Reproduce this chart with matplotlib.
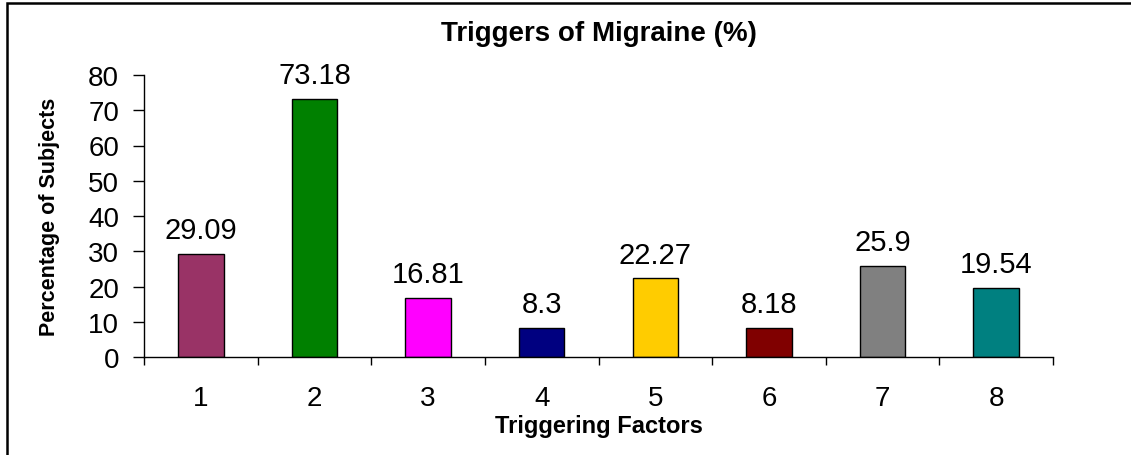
import matplotlib.pyplot as plt
from matplotlib.patches import Rectangle

factors = ["1", "2", "3", "4", "5", "6", "7", "8"]
percent = [29.09, 73.18, 16.81, 8.3, 22.27, 8.18, 25.9, 19.54]
labels = ["29.09", "73.18", "16.81", "8.3", "22.27", "8.18", "25.9", "19.54"]
colors = ["#993366", "#008000", "#FF00FF", "#000080",
          "#FFCC00", "#800000", "#808080", "#008080"]

plt.rcParams["font.family"] = ["Liberation Sans", "DejaVu Sans"]

fig = plt.figure(figsize=(11.31, 4.56), dpi=100)
W, H = 1131, 456
ax = fig.add_axes([144 / W, 1 - 358 / H, (1053 - 144) / W, (358 - 76) / H])

x = list(range(len(factors)))
ax.bar(x, percent, width=0.4, color=colors, edgecolor="black", linewidth=1)

# value labels above bars
for xi, v, t in zip(x, percent, labels):
    ax.annotate(t, (xi, v), xytext=(0, 11.5), textcoords="offset points",
                ha="center", va="baseline", fontsize=21)

ax.set_xlim(-0.5, len(factors) - 0.5)
ax.set_ylim(0, 80)
ax.set_yticks(range(0, 81, 10))
ax.tick_params(axis="y", labelsize=20, length=8, width=1, direction="out", pad=10)

ax.set_xticks([i - 0.5 for i in range(len(factors) + 1)])
ax.set_xticklabels([])
ax.set_xticks(x, minor=True)
ax.set_xticklabels(factors, minor=True)
ax.tick_params(axis="x", which="major", length=6, width=1, direction="out")
ax.tick_params(axis="x", which="minor", length=0, labelsize=20, pad=20)

for side in ["top", "right"]:
    ax.spines[side].set_visible(False)
ax.spines["left"].set_linewidth(1)
ax.spines["bottom"].set_linewidth(1)

ax.set_title("Triggers of Migraine (%)", fontsize=20, fontweight="bold", pad=25)
ax.set_xlabel("Triggering Factors", fontsize=17, fontweight="bold", labelpad=2)
ax.set_ylabel("Percentage of Subjects", fontsize=15.5, fontweight="bold", labelpad=20)

# outer frame (only left/top visible, cropped on right/bottom)
fig.patches.append(Rectangle((7 / W, -0.05), 1.2, 1 - 4 / H + 0.05,
                             transform=fig.transFigure, fill=False,
                             edgecolor="black", linewidth=1.8, clip_on=False))

fig.savefig("out.png", dpi=100)
